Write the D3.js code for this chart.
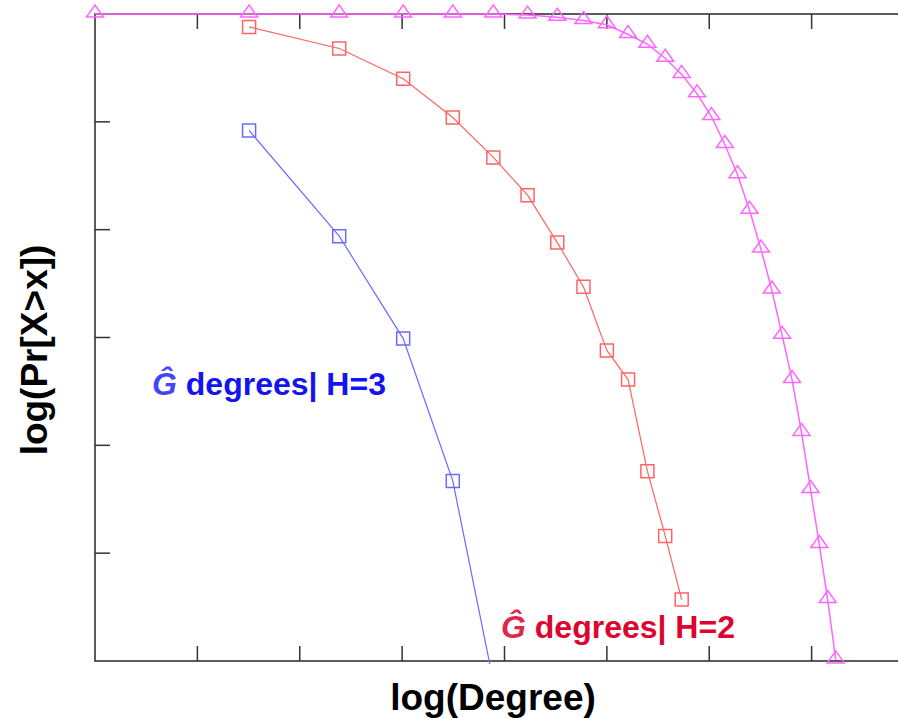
<!DOCTYPE html>
<html>
<head>
<meta charset="utf-8">
<script src="https://cdn.jsdelivr.net/npm/d3@7"></script>
<style>
  body { margin: 0; background: #fff; }
  svg { display: block; font-family: "Liberation Sans", Arial, sans-serif; }
</style>
</head>
<body>
<div id="chart"></div>
<script>
// degree values (x axis is log10 of these)
var degreesH1 = d3.range(1, 29);
var degreesH2 = d3.range(2, 15);
var degreesH3 = d3.range(2, 7);

// log10(Pr[X>x])
var logPrH1 = [0, 0, 0, 0, 0, 0, -0.01, -0.03, -0.06, -0.10, -0.19, -0.28, -0.41, -0.56,
               -0.74, -0.95, -1.21, -1.49, -1.82, -2.18, -2.56, -2.98, -3.39, -3.88,
               -4.41, -4.92, -5.43, -5.99];
var logPrH2 = [-0.12, -0.32, -0.60, -0.96, -1.33, -1.68, -2.12, -2.53, -3.12, -3.39,
               -4.24, -4.84, -5.43];
var logPrH3 = [-1.08, -2.06, -3.01, -4.33, -6.19];

// tick positions (no tick labels in the original)
var xTicks = [0.2, 0.4, 0.6, 0.8, 1.0, 1.2, 1.4];
var yTicks = [-1, -2, -3, -4, -5];

function init(){
    var w = 898, h = 718;
    var left = 95, right = 914, top = 14, bottom = 661;

    var x = d3.scaleLinear().domain([0, 1.6]).range([left, right]);
    var y = d3.scaleLinear().domain([-6, 0]).range([bottom, top]);

    var svg = d3.select("#chart").append("svg")
                .attr("width", w)
                .attr("height", h);

    svg.append("clipPath").attr("id", "clip")
        .append("rect")
        .attr("x", 0).attr("y", 0)
        .attr("width", w).attr("height", bottom + 3);

    // frame
    var axisColor = "#333";
    svg.append("rect")
        .attr("x", left).attr("y", top)
        .attr("width", right - left).attr("height", bottom - top)
        .attr("fill", "none")
        .attr("stroke", axisColor)
        .attr("stroke-width", 1.6);

    // inward ticks: bottom, top, left, right
    var tl = 15;
    svg.selectAll(".xtb").data(xTicks).enter().append("line")
        .attr("x1", function(d){ return x(d); }).attr("x2", function(d){ return x(d); })
        .attr("y1", bottom).attr("y2", bottom - tl)
        .attr("stroke", axisColor).attr("stroke-width", 1.5);
    svg.selectAll(".xtt").data(xTicks).enter().append("line")
        .attr("x1", function(d){ return x(d); }).attr("x2", function(d){ return x(d); })
        .attr("y1", top).attr("y2", top + tl)
        .attr("stroke", axisColor).attr("stroke-width", 1.5);
    svg.selectAll(".ytl").data(yTicks).enter().append("line")
        .attr("x1", left).attr("x2", left + tl)
        .attr("y1", function(d){ return y(d); }).attr("y2", function(d){ return y(d); })
        .attr("stroke", axisColor).attr("stroke-width", 1.5);
    svg.selectAll(".ytr").data(yTicks).enter().append("line")
        .attr("x1", right).attr("x2", right - tl)
        .attr("y1", function(d){ return y(d); }).attr("y2", function(d){ return y(d); })
        .attr("stroke", axisColor).attr("stroke-width", 1.5);

    var series = [
        { deg: degreesH3, val: logPrH3, color: "#6a6aff", mark: "square", lw: 1.2 },
        { deg: degreesH2, val: logPrH2, color: "#ff6464", mark: "square", lw: 1.2 },
        { deg: degreesH1, val: logPrH1, color: "#ff66ff", mark: "triangle", lw: 1.5 }
    ];

    var line = d3.line()
        .x(function(d){ return x(Math.log10(d[0])); })
        .y(function(d){ return y(d[1]); });

    var plot = svg.append("g").attr("clip-path", "url(#clip)");

    series.forEach(function(s){
        var pts = s.deg.map(function(d, i){ return [d, s.val[i]]; });
        plot.append("path")
            .datum(pts)
            .attr("d", line)
            .attr("fill", "none")
            .attr("stroke", s.color)
            .attr("stroke-width", s.lw);

        var marks = plot.selectAll(null).data(pts).enter().append("path")
            .attr("transform", function(d){
                return "translate(" + x(Math.log10(d[0])) + "," + y(d[1]) + ")";
            })
            .attr("fill", "none")
            .attr("stroke", s.color)
            .attr("stroke-width", 1.5);
        if (s.mark === "square") {
            marks.attr("d", "M-6.5,-6.5H6.5V6.5H-6.5Z");
        } else {
            marks.attr("d", "M0,-9L8.5,3H-8.5Z");
        }
    });

    // series labels
    var lab3 = svg.append("text")
        .attr("x", 152).attr("y", 395)
        .attr("font-size", 32).attr("font-weight", "bold")
        .attr("fill", "#1414ee");
    lab3.append("tspan").attr("font-style", "italic").attr("fill", "#4444ff").text("Ĝ");
    lab3.append("tspan").text(" degrees| H=3");

    var lab2 = svg.append("text")
        .attr("x", 501).attr("y", 638)
        .attr("font-size", 32).attr("font-weight", "bold")
        .attr("fill", "#dc0532");
    lab2.append("tspan").attr("font-style", "italic").attr("fill", "#e0284a").text("Ĝ");
    lab2.append("tspan").text(" degrees| H=2");

    // axis titles
    svg.append("text")
        .attr("x", 493).attr("y", 710)
        .attr("text-anchor", "middle")
        .attr("font-size", 37).attr("font-weight", "bold")
        .attr("fill", "#000")
        .text("log(Degree)");

    svg.append("text")
        .attr("transform", "translate(47,350) rotate(-90)")
        .attr("text-anchor", "middle")
        .attr("font-size", 37).attr("font-weight", "bold")
        .attr("fill", "#000")
        .text("log(Pr[X>x])");
}
window.onload = init;
</script>
</body>
</html>
